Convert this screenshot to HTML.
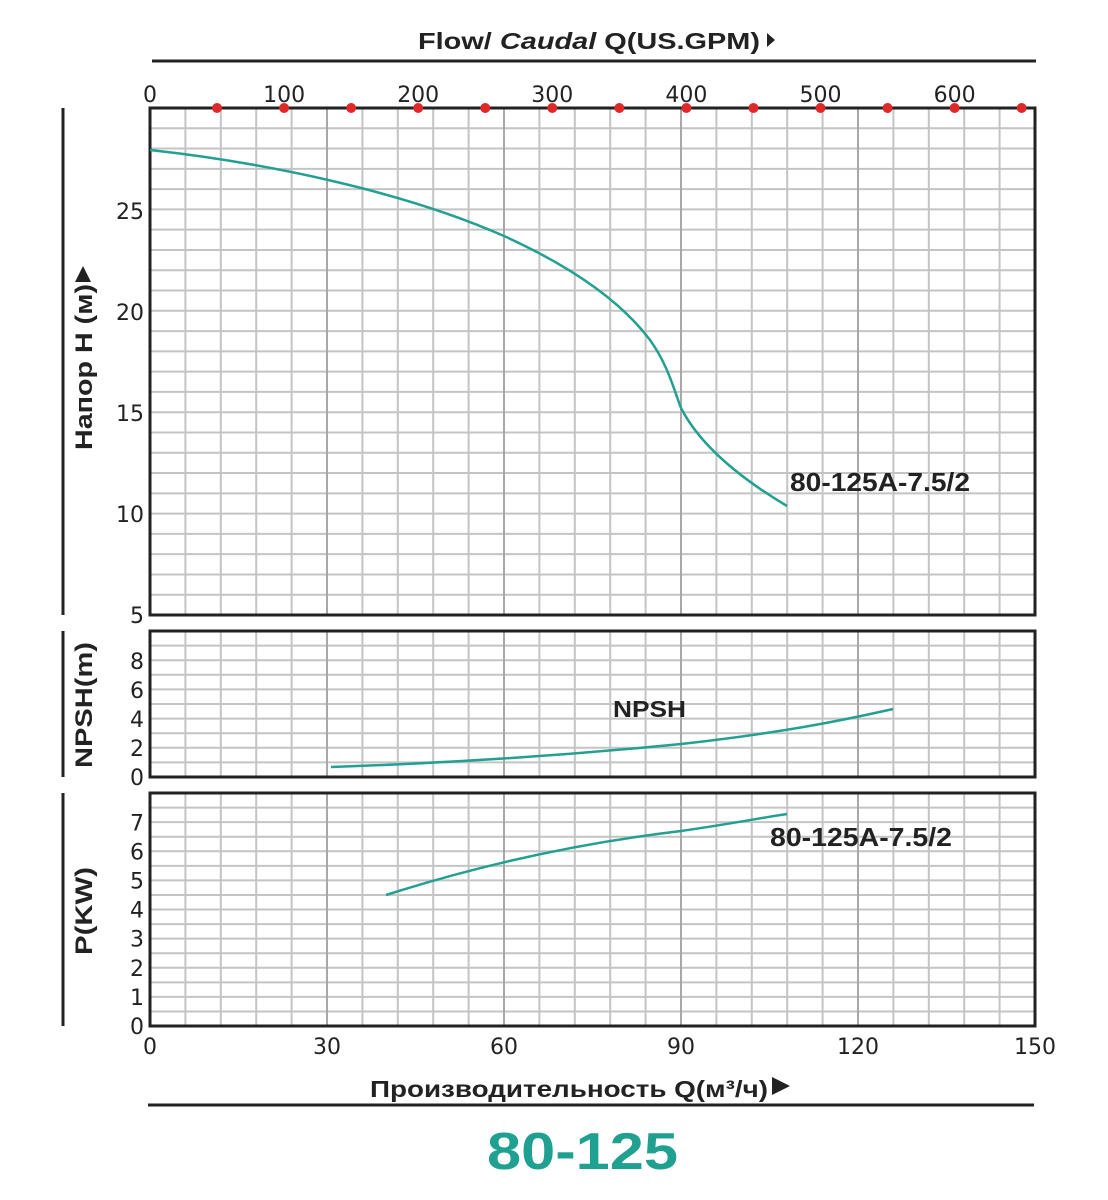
<!DOCTYPE html>
<html><head><meta charset="utf-8"><style>
body{margin:0;background:#fff}
svg{display:block}
.t{font-family:"DejaVu Sans",sans-serif;font-size:22px;fill:#222}
.b{font-family:"Liberation Sans",sans-serif;font-weight:bold;fill:#222}
</style></head><body>
<svg id="s" width="1108" height="1200" xmlns="http://www.w3.org/2000/svg">
<g id="g"></g>
<line x1="152" y1="61" x2="1036" y2="61" stroke="#222" stroke-width="3"/>
<text class="b" x="418" y="49" font-size="23" textLength="342" lengthAdjust="spacingAndGlyphs">Flow/ <tspan font-style="italic">Caudal</tspan> Q(US.GPM)</text>
<polygon points="767,33 767,47 775,40" fill="#222"/>
<line x1="63" y1="108" x2="63" y2="615" stroke="#222" stroke-width="3"/>
<line x1="63" y1="631" x2="63" y2="777" stroke="#222" stroke-width="3"/>
<line x1="63" y1="793" x2="63" y2="1026" stroke="#222" stroke-width="3"/>
<text class="b" font-size="24" transform="translate(92,450) rotate(-90)" textLength="166" lengthAdjust="spacingAndGlyphs">Напор H (м)</text>
<polygon points="75,282 91,282 83,266" fill="#222"/>
<text class="b" font-size="24" transform="translate(92,768) rotate(-90)" textLength="126" lengthAdjust="spacingAndGlyphs">NPSH(m)</text>
<text class="b" font-size="24" transform="translate(92,955) rotate(-90)" textLength="88" lengthAdjust="spacingAndGlyphs">P(KW)</text>
<path fill="none" stroke="#22a090" stroke-width="2.5" d="M150,150 C260,162 400,190 504,236 C570,266 620,300 650,340 C668,365 674,390 681,408 C700,445 740,478 787,506"/>
<path fill="none" stroke="#22a090" stroke-width="2.5" d="M331,767 C480,762 600,752 681,744 C780,733 840,721 893,709"/>
<path fill="none" stroke="#22a090" stroke-width="2.5" d="M386,895 C480,865 580,843 681,831 C730,824 760,818 787,814"/>
<text class="b" x="790" y="491" font-size="26" textLength="180" lengthAdjust="spacingAndGlyphs">80-125A-7.5/2</text>
<text class="b" x="613" y="717" font-size="23" textLength="73" lengthAdjust="spacingAndGlyphs">NPSH</text>
<text class="b" x="770" y="846" font-size="26" textLength="182" lengthAdjust="spacingAndGlyphs">80-125A-7.5/2</text>
<text class="b" x="370" y="1097" font-size="23" textLength="398" lengthAdjust="spacingAndGlyphs">Производительность Q(м³/ч)</text>
<polygon points="772,1077 772,1095 790,1086" fill="#222"/>
<line x1="148" y1="1105" x2="1034" y2="1105" stroke="#222" stroke-width="3"/>
<text class="b" x="487" y="1169" font-size="52" textLength="191" lengthAdjust="spacingAndGlyphs" style="fill:#1fa090">80-125</text>
</svg>
<script>
var g=document.getElementById('g'),h='';
function L(x1,y1,x2,y2,c,w){h+='<line x1="'+x1+'" y1="'+y1+'" x2="'+x2+'" y2="'+y2+'" stroke="'+c+'" stroke-width="'+w+'"/>';}
function T(x,y,s,a){h+='<text class="t" x="'+x+'" y="'+y+'" text-anchor="'+(a||'middle')+'">'+s+'</text>';}
var X0=150,X1=1035,dx=(X1-X0)/25;
function panel(top,bot,n){
  for(var i=1;i<n;i++){var y=top+(bot-top)*i/n;L(X0,y,X1,y,'#c4c4c4',2);}
  for(var j=1;j<25;j++){var x=X0+dx*j;L(x,top,x,bot,j%5==0?'#a8a8a8':'#c4c4c4',2);}
  h+='<rect x="'+X0+'" y="'+top+'" width="'+(X1-X0)+'" height="'+(bot-top)+'" fill="none" stroke="#222" stroke-width="3"/>';
}
panel(108,615,25);panel(631,777,10);panel(793,1026,16);
[[5,615],[10,514],[15,413],[20,312],[25,211]].forEach(function(p){T(144,p[1]+8,p[0],'end');});
for(var k=0;k<=8;k+=2)T(144,777-14.5*k+8,k,'end');
for(var k=0;k<=7;k++)T(144,1026-29.1*k+8,k,'end');
for(var k=0;k<=150;k+=30)T(X0+5.9*k,1054,k);
for(var k=0;k<=600;k+=100)T(X0+1.341*k,102,k);
for(var k=50;k<=650;k+=50)h+='<circle cx="'+(X0+1.341*k)+'" cy="108" r="5" fill="#e02828"/>';
g.innerHTML=h;
</script>
</body></html>
